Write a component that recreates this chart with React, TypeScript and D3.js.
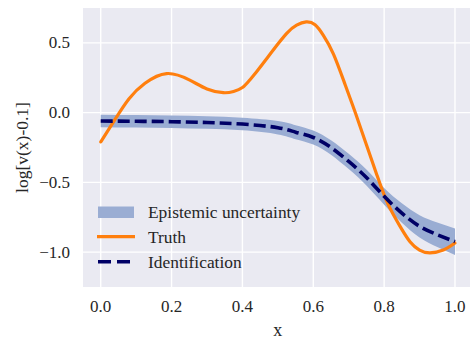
import React from 'react';
import * as d3 from 'd3';

// truth curve
const truthX = [0, 0.04, 0.08, 0.125, 0.186, 0.25, 0.3, 0.346, 0.375, 0.4, 0.42, 0.44, 0.465, 0.487, 0.525, 0.553, 0.58, 0.605, 0.628, 0.657, 0.69, 0.72, 0.75, 0.78, 0.81, 0.845, 0.873, 0.9, 0.929, 0.967, 1.0];
const truthY = [-0.21, -0.05, 0.1, 0.21, 0.28, 0.235, 0.17, 0.143, 0.152, 0.18, 0.232, 0.293, 0.375, 0.449, 0.568, 0.627, 0.65, 0.63, 0.556, 0.42, 0.2, -0.01, -0.23, -0.45, -0.65, -0.815, -0.925, -0.985, -1.005, -0.985, -0.935];

// identification (mean) and epistemic band half width
const identX = [0, 0.1, 0.2, 0.3, 0.4, 0.5, 0.55, 0.6, 0.65, 0.7, 0.75, 0.8, 0.85, 0.9, 0.95, 1.0];
const identY = [-0.06, -0.062, -0.065, -0.071, -0.082, -0.108, -0.14, -0.178, -0.25, -0.35, -0.465, -0.6, -0.72, -0.815, -0.875, -0.925];
const bandHalf = [0.045, 0.045, 0.045, 0.045, 0.045, 0.048, 0.05, 0.05, 0.052, 0.055, 0.057, 0.06, 0.07, 0.08, 0.088, 0.095];

const xTicks = [0, 0.2, 0.4, 0.6, 0.8, 1.0];
const xTickLabels = ['0.0', '0.2', '0.4', '0.6', '0.8', '1.0'];
const yTicks = [0.5, 0, -0.5, -1.0];
const yTickLabels = ['0.5', '0.0', '\u22120.5', '\u22121.0'];

const legendLabels = ['Epistemic uncertainty', 'Truth', 'Identification'];

const W = 470;
const H = 342;
const FONT = 'Liberation Serif, DejaVu Serif, serif';
const BAND = '#9aadd3';
const ORANGE = '#ff7f0e';
const NAVY = '#000066';
const TEXT = '#262626';

export default function App() {
  const x = d3.scaleLinear().domain([-0.05, 1.05]).range([83, 472.7]);
  const y = d3.scaleLinear().domain([-1.25, 0.75]).range([287, 8]);

  const truth = truthX.map((v, i) => [v, truthY[i]] as [number, number]);
  const ident = identX.map((v, i) => ({ x: v, y: identY[i], h: bandHalf[i] }));

  const truthLine = d3.line<[number, number]>()
    .x((d) => x(d[0]))
    .y((d) => y(d[1]))
    .curve(d3.curveNatural);

  const identLine = d3.line<{ x: number; y: number; h: number }>()
    .x((d) => x(d.x))
    .y((d) => y(d.y))
    .curve(d3.curveNatural);

  const band = d3.area<{ x: number; y: number; h: number }>()
    .x((d) => x(d.x))
    .y0((d) => y(d.y - d.h))
    .y1((d) => y(d.y + d.h))
    .curve(d3.curveNatural);

  const [x0, x1] = x.range();
  const [y0, y1] = y.range();

  return (
    <svg width={W} height={H} style={{ position: 'absolute', left: 0, top: 0, display: 'block' }}>
      <rect x={0} y={0} width={W} height={H} fill="#fff" />
      <rect x={x0} y={y1} width={x1 - x0} height={y0 - y1} fill="#eaeaf2" />

      {/* grid */}
      {xTicks.map((t) => (
        <line key={'gx' + t} x1={x(t)} x2={x(t)} y1={y1} y2={y0} stroke="#fff" strokeWidth={1.4} />
      ))}
      {yTicks.map((t) => (
        <line key={'gy' + t} x1={x0} x2={x1} y1={y(t)} y2={y(t)} stroke="#fff" strokeWidth={1.4} />
      ))}

      <path d={band(ident) || ''} fill={BAND} />
      <path d={truthLine(truth) || ''} fill="none" stroke={ORANGE} strokeWidth={3.2} strokeLinecap="round" />
      <path d={identLine(ident) || ''} fill="none" stroke={NAVY} strokeWidth={3.6} strokeDasharray="12 5" />

      {/* tick labels */}
      {xTicks.map((t, i) => (
        <text key={'tx' + t} x={x(t)} y={312} textAnchor="middle" fontFamily={FONT} fontSize={17} fill={TEXT}>
          {xTickLabels[i]}
        </text>
      ))}
      {yTicks.map((t, i) => (
        <text key={'ty' + t} x={70} y={y(t)} dy="0.33em" textAnchor="end" fontFamily={FONT} fontSize={17} fill={TEXT}>
          {yTickLabels[i]}
        </text>
      ))}

      <text x={(x(0) + x(1)) / 2} y={336} textAnchor="middle" fontFamily={FONT} fontSize={18} fill={TEXT}>x</text>
      <text transform={`translate(28, ${(y0 + y1) / 2}) rotate(-90)`} textAnchor="middle" fontFamily={FONT} fontSize={17.5} fill={TEXT}>
        log[v(x)-0.1]
      </text>

      {/* legend */}
      <g fontFamily={FONT} fontSize={17.4} fill={TEXT}>
        <rect x={98} y={206.5} width={36} height={11.5} fill={BAND} />
        <text x={148} y={218}>{legendLabels[0]}</text>
        <line x1={97} x2={135} y1={236.7} y2={236.7} stroke={ORANGE} strokeWidth={3.2} />
        <text x={148} y={243}>{legendLabels[1]}</text>
        <line x1={98} x2={131} y1={261.7} y2={261.7} stroke={NAVY} strokeWidth={3.6} strokeDasharray="13 6" />
        <text x={148} y={268}>{legendLabels[2]}</text>
      </g>
    </svg>
  );
}
